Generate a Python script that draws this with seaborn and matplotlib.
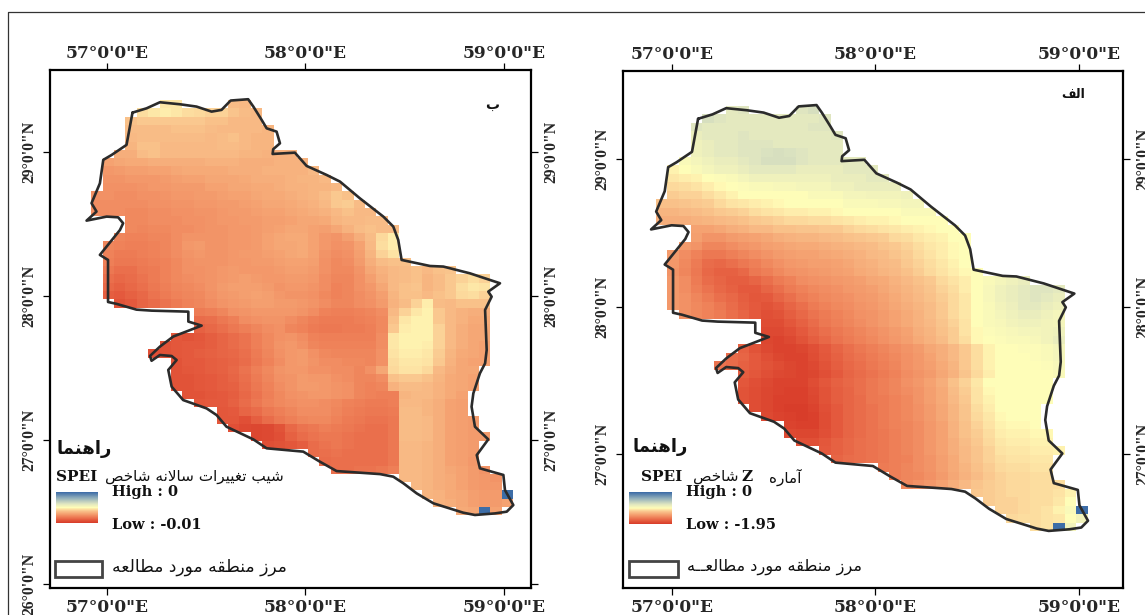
import numpy as np
import pandas as pd
import matplotlib
matplotlib.use("Agg")
import matplotlib.pyplot as plt
import seaborn as sns
from matplotlib.colors import LinearSegmentedColormap
from matplotlib.lines import Line2D
from matplotlib.patches import Rectangle
from matplotlib.path import Path
from matplotlib.transforms import offset_copy

_ = np.nan
W, H = 1145, 615
LON0, DLON = 56.922, 0.0574
LAT0, DLAT = 29.361, 0.0577
NCOLS = 37

# study area boundary
border_lon = [57.130,57.201,57.268,57.369,57.452,57.528,57.578,57.624,57.712,57.738,57.780,57.805,57.855,57.872,57.838,57.835,57.947,58.006,58.107,58.174,58.274,58.392,58.442,58.467,58.484,58.627,58.694,58.828,58.979,58.920,58.937,58.904,58.912,58.904,58.878,58.845,58.836,58.853,58.920,58.862,58.878,58.996,59.004,59.046,59.013,58.954,58.853,58.794,58.644,58.560,58.493,58.442,58.375,58.157,58.073,57.989,57.805,57.738,57.603,57.553,57.503,57.385,57.327,57.310,57.352,57.327,57.268,57.226,57.218,57.268,57.335,57.478,57.411,57.411,57.226,57.150,57.050,57.007,57.007,56.966,57.067,57.083,57.058,57.000,56.899,56.949,56.924,56.966,56.983,57.025,57.100,57.130]
border_lat = [29.273,29.303,29.345,29.331,29.315,29.280,29.292,29.357,29.366,29.315,29.222,29.164,29.141,29.060,29.019,28.986,28.995,28.903,28.840,28.794,28.678,28.551,28.482,28.389,28.250,28.208,28.204,28.157,28.088,28.030,27.995,27.903,27.625,27.532,27.463,27.324,27.231,27.092,27.004,26.895,26.803,26.757,26.652,26.548,26.502,26.490,26.479,26.495,26.560,26.629,26.699,26.745,26.763,26.784,26.849,26.919,26.942,27.004,27.092,27.173,27.219,27.277,27.370,27.486,27.555,27.583,27.590,27.550,27.583,27.648,27.718,27.794,27.822,27.891,27.898,27.905,27.945,27.958,28.250,28.285,28.458,28.505,28.546,28.551,28.523,28.586,28.644,28.782,28.945,28.979,29.049,29.273]

# colour level of each raster cell, 0 = low end of the ramp, 100 = high end
slope_levels = [
[_]*5+[44,46,46,44,40,38,38,37,36,36],
[_]*3+[42,44,46,47,46,44,43,42,42,39,37,36,35],
[_]*2+[38,38,40,40,40,40,40,40,38,38,36,36,36,35,35],
[_]*2+[36,37,37,37,37,38,38,38,37,36,36,36,36,35,35],
[_]*2+[35,36,37,37,37,37,37,37,36,37,38,36,35,35,35],
[_]*1+[34,34,35,38,38,36,36,36,36,36,37,37,36,35,35,35],
[_]*1+[32,33,33,37,38,36,36,36,36,36,36,36,35,35,34,34,34],
[30,30,31,32,32,33,33,33,33,33,34,34,34,33,33,33,34,34,34],
[27,27,28,29,29,30,30,31,32,32,32,32,33,33,33,34,34,34,34,36],
[26,26,26,27,27,27,28,29,30,30,31,31,31,32,33,33,33,34,35,35,36],
[25,25,25,25,26,27,27,28,28,28,30,30,31,31,32,32,33,34,34,35,35,36],
[25,25,24,24,25,25,26,27,27,28,28,29,30,30,31,32,32,33,34,35,37,40,38],
[24,24,24,24,24,25,25,26,26,27,27,28,28,29,30,31,31,32,33,34,36,40,41,37],
[24,24,24,23,23,24,24,25,25,26,26,27,28,28,29,30,30,31,32,33,34,36,38,36,36],
[24,24,24,23,23,24,24,24,25,25,26,27,27,28,28,29,29,30,31,31,32,35,36,36,37,37],
[_]*1+[24,24,23,22,23,23,24,24,25,26,26,27,27,28,29,30,31,31,30,29,31,34,37,38,37,37],
[_]*1+[22,22,21,21,22,22,24,26,26,26,26,27,27,28,30,31,32,32,30,27,26,29,33,37,43,47],
[24,22,21,20,20,21,22,24,27,28,26,26,27,27,28,30,31,31,32,30,27,25,26,30,36,44,47],
[23,21,19,19,20,21,22,24,26,27,26,26,27,28,28,29,30,31,32,30,26,24,25,29,35,42,45],
[22,20,18,18,19,20,21,23,25,26,26,26,27,27,28,28,29,30,30,29,25,23,24,28,33,37,38,38,36,36],
[20,18,16,16,18,19,21,23,25,25,26,27,28,27,27,27,28,29,29,28,25,23,23,26,31,34,36,37,38,36,38,39,39,38,38],
[19,16,14,15,17,19,21,23,24,25,26,27,28,29,28,27,27,28,28,27,24,22,22,25,29,33,36,37,38,35,37,40,42,44,42,40],
[18,14,12,14,16,18,20,22,23,24,26,28,29,29,29,28,26,27,27,26,24,21,22,25,27,31,36,38,39,35,37,40,44,46,45,42],
[16,11,10,12,14,17,19,21,22,23,25,27,28,29,30,29,27,26,26,25,23,21,22,24,26,29,35,38,38,36,38,40,43,44,42,40],
[12,8,8,10,13,15,17,19,21,22,24,26,27,28,29,29,28,28,27,26,24,22,22,24,25,28,34,37,42,47,37,36,38,38,38,38],
[_]*8+[20,19,20,22,25,26,27,27,27,27,26,24,21,20,20,21,22,24,36,42,46,48,40,36,34,33,33],
[_]*8+[16,15,16,18,20,24,25,26,26,24,22,20,19,19,19,20,21,23,38,46,48,48,40,36,34,32,32],
[_]*8+[12,12,14,16,18,20,22,24,25,22,21,19,18,18,19,19,20,23,40,47,48,48,42,36,33,31,31],
[_]*6+[10,9,8,9,11,13,15,17,20,23,25,26,24,21,20,20,20,20,20,24,46,48,48,48,42,36,33,31,31,30,30],
[_]*5+[7,8,9,10,10,11,13,15,17,20,23,26,27,25,22,21,21,21,21,21,24,46,48,48,47,42,36,33,31,30,30,30],
[_]*4+[7,7,8,9,10,11,12,13,14,16,19,22,25,27,28,25,23,22,22,22,22,25,45,47,47,46,41,35,32,31,30,30,30],
[_]*4+[7,5,5,8,10,10,11,12,13,15,18,21,24,27,28,26,24,24,23,23,22,25,44,46,46,45,40,34,31,30,30,30,30],
[_]*6+[9,8,9,10,11,12,14,17,20,23,26,27,27,25,25,24,24,22,25,31,43,45,45,43,36,33,31,31,30,30,30],
[_]*6+[9,8,8,9,10,11,13,16,19,22,25,26,28,27,27,25,24,22,22,24,38,40,40,38,35,32,31,30,30,30,30],
[_]*6+[8,8,8,9,10,11,12,15,18,21,24,26,28,28,27,26,25,22,21,22,34,37,37,36,34,32,31,30,30,30,30],
[_]*7+[8,8,8,9,10,11,14,17,20,23,25,26,27,27,26,25,22,21,20,20,35,36,36,34,32,30,30,30],
[_]*9+[9,10,10,12,15,18,21,23,24,25,25,24,23,21,20,19,19,20,36,36,35,33,30,29,29,30],
[_]*10+[10,9,10,13,15,18,20,22,24,24,24,22,20,19,18,18,19,37,37,35,33,30,29,29,28],
[_]*10+[10,9,9,7,11,15,18,20,22,23,23,21,19,18,17,17,18,37,37,36,33,30,29,28,28],
[_]*11+[8,7,5,4,5,8,14,17,18,20,19,18,17,16,16,18,37,37,36,33,30,29,28,28],
[_]*12+[6,4,4,5,7,12,15,17,18,18,17,16,16,16,18,37,37,36,33,30,29,28,28],
[_]*14+[8,7,8,9,11,15,17,18,17,16,16,16,18,36,36,35,33,30,29,28,27,28],
[_]*18+[14,15,16,17,16,16,16,16,18,36,36,35,33,30,29,28,26,27],
[_]*19+[15,15,16,16,16,16,16,18,36,36,35,33,30,29,27,26,26],
[_]*20+[15,16,16,17,17,18,20,36,36,35,33,31,30,28,26,26,26],
[_]*25+[20,22,36,36,35,33,32,30,28,27,26,28],
[_]*26+[24,36,36,35,33,32,30,28,27,27,28],
[_]*27+[36,36,35,34,32,31,29,28,28,99],
[_]*29+[35,34,33,31,29,28,28,30],
[_]*30+[34,33,32,31,99,30,30],
]

z_levels = [
[_]*5+[60,60,62,62,60,60,60,62,64,64],
[_]*3+[62,64,62,60,60,60,60,60,60,60,60,62,64],
[_]*2+[60,62,60,60,60,60,60,60,60,60,60,62,62,62],
[_]*2+[58,58,60,60,60,62,60,60,60,60,60,60,60,62,62],
[_]*2+[56,56,58,60,60,62,62,62,60,60,60,60,60,60,60],
[_]*1+[54,54,56,58,60,60,62,62,63,64,63,62,60,60,60,60],
[_]*1+[52,52,54,56,58,58,60,62,64,64,64,62,60,60,60,60,60],
[48,48,50,52,54,56,56,58,60,60,60,60,58,58,58,58,60,60,60],
[45,46,47,48,50,51,52,54,56,56,56,56,56,56,56,58,58,58,60,60],
[42,43,44,45,47,49,50,51,52,52,53,53,54,54,54,56,56,58,58,58,58],
[40,41,42,42,44,46,48,50,50,50,50,50,50,52,52,52,54,54,55,55,55,56],
[38,38,39,40,41,43,45,46,47,48,49,50,50,50,50,50,52,52,52,53,53,54,54],
[35,35,36,37,38,40,41,42,44,45,46,47,47,48,48,49,50,50,50,50,50,52,52,52],
[33,33,33,34,35,36,37,38,40,41,42,43,43,44,44,45,46,47,48,48,49,50,50,50,50],
[33,33,32,30,30,31,33,34,36,36,38,38,39,39,40,40,42,43,44,45,46,47,48,49,50,50,50],
[_]*1+[32,31,29,26,26,28,29,30,31,33,34,35,35,36,37,38,39,40,41,43,44,46,47,48,50,50],
[_]*1+[30,28,26,22,22,24,26,27,29,30,31,32,32,33,34,35,36,37,39,40,42,44,46,47,49,50],
[30,28,24,21,18,18,20,22,24,26,28,29,30,30,31,32,33,34,36,37,39,41,43,45,47,49,50],
[30,27,23,19,15,14,16,18,20,23,25,27,28,29,29,30,31,33,34,36,37,40,42,44,46,48,50,50],
[30,26,22,18,14,12,12,14,18,20,23,25,26,27,28,29,30,32,33,35,36,38,41,43,45,47,49,50,50,52],
[30,27,24,19,15,13,11,11,13,16,19,21,24,25,26,27,28,29,31,32,34,36,38,40,43,45,47,50,52,54,56,58,58,60,60],
[30,27,24,20,17,14,12,10,10,13,16,19,21,23,24,25,27,28,29,31,33,35,37,39,42,44,47,50,53,56,58,60,62,62,60,58],
[28,27,25,22,19,16,14,11,9,10,13,16,19,21,23,24,25,27,28,30,32,34,36,38,41,43,46,50,53,56,58,60,62,60,58,56],
[28,27,25,23,21,18,15,12,10,8,10,13,16,19,21,23,24,26,27,29,31,33,35,37,40,43,46,50,52,55,57,60,60,58,56],
[28,27,25,23,21,19,16,13,10,7,8,11,14,17,19,21,23,25,26,28,30,32,34,37,40,43,46,50,52,54,56,58,58,56,54],
[_]*8+[8,6,6,9,12,15,18,20,22,24,26,28,30,32,34,36,39,42,45,50,52,53,55,56,56,55,54],
[_]*8+[7,5,5,7,10,13,16,18,20,22,24,26,28,30,33,35,38,41,45,49,51,52,53,54,54,55,56],
[_]*8+[6,4,3,5,8,11,14,17,19,21,23,25,27,29,32,34,37,41,44,49,50,51,52,52,53,55,58],
[_]*6+[14,12,8,5,3,3,4,7,10,13,16,18,20,22,24,26,28,31,33,36,40,44,48,50,50,51,51,52,54,58,60],
[_]*5+[16,15,13,10,7,4,3,3,6,9,12,15,17,19,21,23,25,27,30,33,36,40,44,48,50,50,50,51,52,54,58,60],
[_]*4+[18,17,15,12,10,8,6,4,3,5,8,11,14,16,18,20,22,25,27,29,32,35,40,44,48,50,50,50,50,51,53,58,60],
[_]*4+[16,15,14,11,9,7,5,4,3,4,7,10,13,15,17,19,21,24,26,28,31,34,39,43,47,50,50,50,50,50,52,56,58],
[_]*6+[11,9,7,5,3,3,3,6,9,12,14,16,18,20,22,25,27,30,33,38,42,46,50,50,50,50,50,50,54,58],
[_]*6+[10,8,6,4,3,2,2,5,8,11,13,16,18,20,22,24,26,29,32,37,41,45,49,50,50,50,50,50,52,54],
[_]*6+[10,8,6,4,2,2,2,4,8,11,13,15,18,19,21,23,26,29,32,36,40,45,48,50,50,50,50,50,50,52],
[_]*7+[8,6,4,2,1,1,3,7,10,13,15,17,19,21,23,25,28,31,35,39,44,47,50,50,50,50,50,50],
[_]*9+[5,3,2,1,2,6,10,13,15,17,19,21,23,25,28,31,35,39,43,46,49,50,50,50,50,48],
[_]*10+[4,3,2,2,6,10,13,15,17,19,21,22,24,27,30,34,38,42,45,48,49,49,50,50],
[_]*10+[6,5,4,4,7,10,13,15,17,18,20,22,24,27,30,34,38,41,44,47,48,48,49,49,50],
[_]*11+[8,7,7,9,12,14,16,17,18,20,22,24,27,30,33,37,40,43,46,47,47,48,48,49],
[_]*12+[11,10,10,12,14,16,17,18,20,22,24,27,30,33,36,39,42,45,46,46,47,47,48,50],
[_]*14+[13,13,15,16,17,18,20,21,24,26,29,32,36,39,42,44,45,45,46,46,47,50],
[_]*18+[18,19,20,22,24,26,29,32,35,38,41,43,44,44,45,45,46,48,50],
[_]*19+[20,20,22,23,25,28,31,34,37,40,42,43,43,44,44,45,46,48],
[_]*20+[22,23,25,27,30,33,36,39,41,42,43,43,44,44,44,46,50],
[_]*25+[35,38,40,41,42,43,43,44,44,45,48,50],
[_]*26+[38,40,41,42,42,43,44,44,46,50,52],
[_]*27+[40,41,42,42,43,44,45,48,52,99],
[_]*29+[42,43,44,44,45,46,50,55],
[_]*30+[44,44,44,45,99,55,58],
]

ramp_stops = [0, 10, 20, 30, 40, 50, 62, 80, 100]
ramp_colors = ["#d73a28", "#e45a3d", "#ee7f57", "#f5a372", "#fac88f", "#fffdb8", "#dfe5c0", "#93b0bb", "#3a6aa6"]
lon_ticks = [57, 58, 59]
lon_labels = ["57°0'0\"E", "58°0'0\"E", "59°0'0\"E"]
lat_labels = {29: "29°0'0\"N", 28: "28°0'0\"N", 27: "27°0'0\"N", 26: "26°0'0\"N"}

# joining tables for the Persian labels (matplotlib does no shaping)
DUAL = {'ب':0xFE8F,'ت':0xFE95,'خ':0xFEA5,'س':0xFEB1,'ش':0xFEB5,'ص':0xFEB9,'ط':0xFEC1,'ع':0xFEC9,'غ':0xFECD,
        'ف':0xFED1,'ق':0xFED5,'ل':0xFEDD,'م':0xFEE1,'ن':0xFEE5,'ه':0xFEE9,'ی':0xFBFC}
RIGHT = {'ا':0xFE8D,'آ':0xFE81,'د':0xFEA9,'ر':0xFEAD,'ز':0xFEAF,'و':0xFEED}
KASH = 'ـ'
LA = '\uFEFB'

def fa(text):
    s = text.replace('لا', LA)
    forms = []
    for i, c in enumerate(s):
        prev = s[i-1] if i > 0 else ' '
        nxt = s[i+1] if i < len(s)-1 else ' '
        jp = prev in DUAL or prev == KASH
        jn = nxt in DUAL or nxt in RIGHT or nxt == LA or nxt == KASH
        if c == LA:
            forms.append(chr(0xFEFC if jp else 0xFEFB))
        elif c in RIGHT:
            forms.append(chr(RIGHT[c] + int(jp)))
        elif c in DUAL:
            forms.append(chr(DUAL[c] + (3 if jp and jn else 1 if jp else 2 if jn else 0)))
        else:
            forms.append(c)
    return ''.join(reversed(forms))

sns.set_theme(style="white")
plt.rcParams['font.family'] = ['Liberation Serif', 'DejaVu Sans']
cmap = LinearSegmentedColormap.from_list("spei", [(s/100, c) for s, c in zip(ramp_stops, ramp_colors)])

fig = plt.figure(figsize=(W/100, H/100), dpi=100)

def px_axes(x0, y0, x1, y1):
    return fig.add_axes([x0/W, 1-y1/H, (x1-x0)/W, (y1-y0)/H])

def put(x, y, s, size, ha='left', weight='normal', family='DejaVu Sans', color='#111111'):
    fig.text(x/W, 1-y/H, s, fontsize=size, ha=ha, va='center', fontweight=weight, family=family, color=color)

def to_cells(lon, lat):
    return (np.asarray(lon)-LON0)/DLON, (LAT0-np.asarray(lat))/DLAT

def draw_panel(frame, xlim, ylim, levels, vmin, vmax, bar, lats, right_lats):
    ax = px_axes(*frame)
    bx, by = to_cells(border_lon, border_lat)
    df = vmin + pd.DataFrame(levels, dtype=float).reindex(columns=range(NCOLS))*(vmax-vmin)/100
    cx, cy = np.meshgrid(np.arange(NCOLS)+.5, np.arange(len(df))+.5)
    inside = Path(np.c_[bx, by]).contains_points(np.c_[cx.ravel(), cy.ravel()]).reshape(cx.shape)
    top = df.to_numpy() >= vmin + .9*(vmax-vmin)
    cax = px_axes(*bar)
    sns.heatmap(df, mask=df.isna().to_numpy() | ~(inside | top), cmap=cmap, vmin=vmin, vmax=vmax, ax=ax,
                cbar_ax=cax, cbar_kws={"ticks": []}, xticklabels=False, yticklabels=False)
    ax.plot(bx, by, color="#2b2b2b", lw=1.9, solid_joinstyle="round")
    ax.set_xlim(*to_cells(xlim, [LAT0, LAT0])[0])
    ax.set_ylim(*to_cells([LON0, LON0], ylim)[1])
    for s in ax.spines.values():
        s.set_visible(True)
        s.set_color("black")
        s.set_linewidth(1.6)
    ax.set_xticks(to_cells(lon_ticks, [LAT0]*3)[0])
    ax.set_xticklabels(lon_labels)
    ax.set_yticks(to_cells([LON0]*len(lats), lats)[1])
    ax.set_yticklabels([lat_labels[v] for v in lats])
    ax.tick_params(axis='both', which='major', length=5, width=0.9, color="black", left=True, right=True, top=True,
                   bottom=True, labelleft=True, labelright=True, labeltop=True, labelbottom=True)
    ax.tick_params(axis='x', pad=3, labelsize=12.3)
    ax.tick_params(axis='y', pad=4, labelsize=11.3, labelrotation=90)
    for tick in ax.xaxis.get_major_ticks():
        for lab in (tick.label1, tick.label2):
            lab.set_fontweight('bold')
            lab.set_family('DejaVu Serif')
        tick.label2.set_transform(offset_copy(tick.label2.get_transform(), fig, y=-3, units='dots'))
    for v, tick in zip(lats, ax.yaxis.get_major_ticks()):
        tick.label1.set_fontweight('bold')
        tick.label2.set_fontweight('bold')
        tick.label1.set_va('center')
        tick.label2.set_va('center')
        tick.label2.set_visible(v in right_lats)
    return ax

# left panel: yearly change of SPEI
draw_panel((50, 70, 531, 588), [56.715, 59.135], [25.972, 29.569], slope_levels, -0.01, 0,
           (56, 492, 98, 523), [29, 28, 27, 26], [29, 28, 27])
# right panel: Z statistic of SPEI
draw_panel((623, 71, 1123, 588), [56.761, 59.218], [26.092, 29.597], z_levels, -1.95, 0,
           (629, 492, 672, 524), [29, 28, 27], [29, 28, 27])

# outer frame of the figure
fig.add_artist(Line2D([7.5/W, 7.5/W, 1], [0, 1-11.5/H, 1-11.5/H], color="#333333", lw=0.9))

serif = 'DejaVu Serif'
put(485, 105, fa('ب'), 10, weight='bold')
put(1073, 94, fa('الف'), 9, ha='center', weight='bold')
put(84, 449, fa('راهنما'), 13, ha='center', weight='bold')
put(660, 447, fa('راهنما'), 13, ha='center', weight='bold')

put(56, 477, 'SPEI', 11, weight='bold', family=serif)
put(105, 477, fa('شیب تغییرات سالانه شاخص'), 11)
put(641, 477, 'SPEI', 11, weight='bold', family=serif)
put(693, 477, fa('شاخص'), 11)
put(741, 477, 'Z', 11, weight='bold', family=serif)
put(769, 477, fa('آماره'), 11)

put(112, 492, 'High : 0', 10.5, weight='bold', family=serif)
put(112, 525, 'Low : -0.01', 10.5, weight='bold', family=serif)
put(686, 492, 'High : 0', 10.5, weight='bold', family=serif)
put(686, 525, 'Low : -1.95', 10.5, weight='bold', family=serif)

put(112, 567, fa('مرز منطقه مورد مطالعه'), 12.3)
put(687, 567, fa('مرز منطقه مورد مطالعــه'), 11.7)
for x0, x1 in [(55, 102), (629, 678)]:
    fig.add_artist(Rectangle((x0/W, 1-577/H), (x1-x0)/W, 16/H, transform=fig.transFigure, fill=False,
                             ec="#444444", lw=2))

plt.savefig("out.png", dpi=100)
